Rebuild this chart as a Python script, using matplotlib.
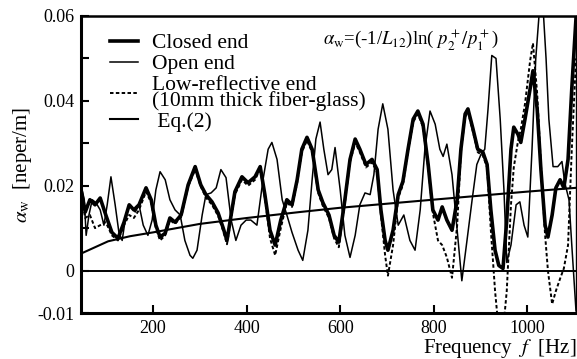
import matplotlib
matplotlib.use('Agg')
import matplotlib.pyplot as plt

plt.rcParams['font.family'] = ['Liberation Serif', 'DejaVu Serif']
plt.rcParams['mathtext.fontset'] = 'stix'

# closed end / low-reflective end share the same frequency grid
freq = [46, 55, 65, 76, 87, 99, 112, 125, 138, 149, 159, 170, 185, 196, 206, 215, 226, 236, 247, 260,
        275, 290, 302, 313, 326, 339, 350, 358, 375, 390, 403, 418, 429, 439, 450, 461, 473, 486, 497, 508,
        518, 529, 540, 553, 563, 576, 587, 597, 610, 621, 632, 642, 655, 668, 679, 687, 696, 702, 713, 724,
        734, 745, 756, 766, 777, 788, 798, 809, 818, 828, 839, 850, 858, 867, 873, 884, 894, 905, 914, 922,
        931, 939, 948, 956, 965, 971, 980, 986, 995, 1006, 1012, 1021, 1029, 1038, 1044, 1053, 1061, 1070, 1078, 1087,
        1095, 1104]
closed = [0.0190, 0.0138, 0.0167, 0.0155, 0.0171, 0.0131, 0.0090, 0.0076, 0.0114, 0.0155, 0.0143, 0.0155, 0.0195, 0.0167, 0.0107, 0.0079, 0.0088, 0.0124, 0.0114, 0.0131,
          0.0202, 0.0245, 0.0202, 0.0179, 0.0162, 0.0136, 0.0100, 0.0071, 0.0186, 0.0221, 0.0207, 0.0221, 0.0245, 0.0179, 0.0095, 0.0060, 0.0119, 0.0167, 0.0155, 0.0214,
          0.0286, 0.0314, 0.0286, 0.0190, 0.0160, 0.0131, 0.0083, 0.0067, 0.0167, 0.0262, 0.0310, 0.0286, 0.0250, 0.0262, 0.0238, 0.0143, 0.0071, 0.0048, 0.0095, 0.0179,
          0.0210, 0.0286, 0.0357, 0.0376, 0.0345, 0.0250, 0.0143, 0.0119, 0.0150, 0.0119, 0.0095, 0.0167, 0.0286, 0.0369, 0.0381, 0.0333, 0.0286, 0.0279, 0.0250, 0.0143,
          0.0048, 0.0012, 0.0005, 0.0119, 0.0286, 0.0338, 0.0321, 0.0302, 0.0357, 0.0429, 0.0471, 0.0381, 0.0238, 0.0107, 0.0079, 0.0131, 0.0195, 0.0214, 0.0195, 0.0262,
          0.0429, 0.0595]
lowref = [0.0179, 0.0124, 0.0131, 0.0100, 0.0107, 0.0114, 0.0083, 0.0071, 0.0107, 0.0131, 0.0124, 0.0143, 0.0186, 0.0160, 0.0100, 0.0071, 0.0083, 0.0119, 0.0110, 0.0126,
          0.0198, 0.0238, 0.0198, 0.0172, 0.0155, 0.0129, 0.0093, 0.0062, 0.0179, 0.0214, 0.0200, 0.0214, 0.0240, 0.0171, 0.0076, 0.0036, 0.0100, 0.0160, 0.0150, 0.0207,
          0.0279, 0.0307, 0.0279, 0.0183, 0.0152, 0.0124, 0.0076, 0.0055, 0.0160, 0.0255, 0.0302, 0.0279, 0.0243, 0.0255, 0.0231, 0.0131, 0.0036, -0.0012, 0.0060, 0.0171,
          0.0202, 0.0279, 0.0350, 0.0369, 0.0338, 0.0243, 0.0136, 0.0071, 0.0060, 0.0031, -0.0017, 0.0107, 0.0279, 0.0362, 0.0374, 0.0326, 0.0279, 0.0271, 0.0243, 0.0095,
          -0.0048, -0.0143, -0.0143, -0.0048, 0.0155, 0.0243, 0.0305, 0.0333, 0.0393, 0.0495, 0.0536, 0.0417, 0.0250, 0.0083, 0.0000, -0.0079, -0.0048, -0.0019, 0.0005, 0.0060,
          0.0286, 0.0500]

freq_open = [46, 53, 57, 63, 70, 78, 87, 95, 102, 110, 119, 127, 134, 142, 151, 162, 170, 179, 189, 198,
             206, 215, 226, 236, 247, 258, 268, 279, 285, 294, 305, 313, 324, 335, 345, 356, 367, 377, 388, 399,
             409, 422, 435, 446, 454, 465, 476, 486, 497, 510, 520, 531, 540, 548, 557, 565, 574, 582, 589, 600,
             610, 621, 632, 642, 653, 664, 672, 681, 691, 702, 713, 724, 736, 749, 760, 771, 781, 792, 803, 813,
             820, 828, 839, 850, 860, 871, 882, 892, 901, 909, 916, 924, 933, 942, 950, 956, 965, 976, 984, 993,
             1001, 1010, 1018, 1027, 1033, 1040, 1046, 1055, 1065, 1074, 1080, 1089, 1095, 1104]
open_end = [0.0202, 0.0167, 0.0083, 0.0131, 0.0167, 0.0160, 0.0143, 0.0107, 0.0155, 0.0221, 0.0155, 0.0090, 0.0071, 0.0131, 0.0155, 0.0138, 0.0155, 0.0107, 0.0083, 0.0119,
            0.0190, 0.0233, 0.0214, 0.0167, 0.0143, 0.0131, 0.0071, 0.0036, 0.0029, 0.0048, 0.0131, 0.0179, 0.0183, 0.0195, 0.0238, 0.0219, 0.0119, 0.0071, 0.0107, 0.0119,
            0.0119, 0.0107, 0.0214, 0.0286, 0.0302, 0.0262, 0.0167, 0.0131, 0.0090, 0.0048, 0.0024, 0.0095, 0.0214, 0.0310, 0.0350, 0.0286, 0.0226, 0.0238, 0.0290, 0.0190,
            0.0083, 0.0031, 0.0083, 0.0155, 0.0183, 0.0179, 0.0226, 0.0333, 0.0393, 0.0333, 0.0190, 0.0107, 0.0131, 0.0071, 0.0048, 0.0143, 0.0286, 0.0376, 0.0345, 0.0286,
            0.0269, 0.0298, 0.0226, 0.0095, -0.0024, 0.0071, 0.0167, 0.0250, 0.0274, 0.0286, 0.0381, 0.0507, 0.0500, 0.0357, 0.0190, 0.0019, 0.0060, 0.0155, 0.0162, 0.0107,
            0.0079, 0.0286, 0.0500, 0.0631, 0.0631, 0.0500, 0.0357, 0.0245, 0.0245, 0.0257, 0.0207, 0.0167, 0.0060, -0.0095]

freq_eq = [46, 104, 151, 200, 300, 401, 514, 600, 798, 999, 1104]
eq2 = [0.0040, 0.0069, 0.0081, 0.0090, 0.0110, 0.0124, 0.0138, 0.0148, 0.0167, 0.0186, 0.0195]

fig = plt.figure(figsize=(5.77, 3.59), dpi=100)
ax = fig.add_axes([81/577, 1-313/359, 495/577, 297/359])

ax.axhline(0, color='black', lw=1.4, zorder=1)
l1, = ax.plot(freq, closed, color='black', lw=2.6, label='Closed end', zorder=3)
l2, = ax.plot(freq_open, open_end, color='black', lw=1.1, label='Open end', zorder=4)
l3, = ax.plot(freq, lowref, color='black', lw=1.4, dashes=(1.8, 1.2), label='Low-reflective end\n(10mm thick fiber-glass)', zorder=2)
l4, = ax.plot(freq_eq, eq2, color='black', lw=1.5, label=' Eq.(2)', zorder=5)

ax.set_xlim(46, 1104)
ax.set_ylim(-0.01, 0.06)
ax.set_xticks([200, 400, 600, 800, 1000])
ax.set_yticks([-0.01, 0, 0.01, 0.02, 0.03, 0.04, 0.05, 0.06])
ax.set_yticklabels(['-0.01', '0', '', '0.02', '', '0.04', '', '0.06'])
ax.tick_params(direction='in', length=6, width=1.5, labelsize=13, pad=5)
for side, w in [('left', 2.2), ('bottom', 2.2), ('top', 1.8), ('right', 1.0)]:
    ax.spines[side].set_linewidth(w)

ax.set_xlabel(r'Frequency  $f$  [Hz]', fontsize=15, loc='right', labelpad=0)
ax.set_ylabel(r'$\alpha_{\rm w}$  [neper/m]', fontsize=15, labelpad=2)

leg = ax.legend(handles=[l1, l2, l3, l4], loc='upper left', bbox_to_anchor=(0.058, 0.942),
                frameon=False, fontsize=15.5, handlelength=1.3, handletextpad=0.65,
                labelspacing=0.05, borderpad=0, borderaxespad=0)
for t in leg.get_texts():
    t.set_linespacing(0.75)

ax.text(0.489, 0.919, r'$\alpha_{\rm w}$=(-1/$L_{12}$)ln( $p_2^+/p_1^+$)', transform=ax.transAxes,
        fontsize=13.5, va='center', ha='left')

fig.savefig('out.png', dpi=100)
